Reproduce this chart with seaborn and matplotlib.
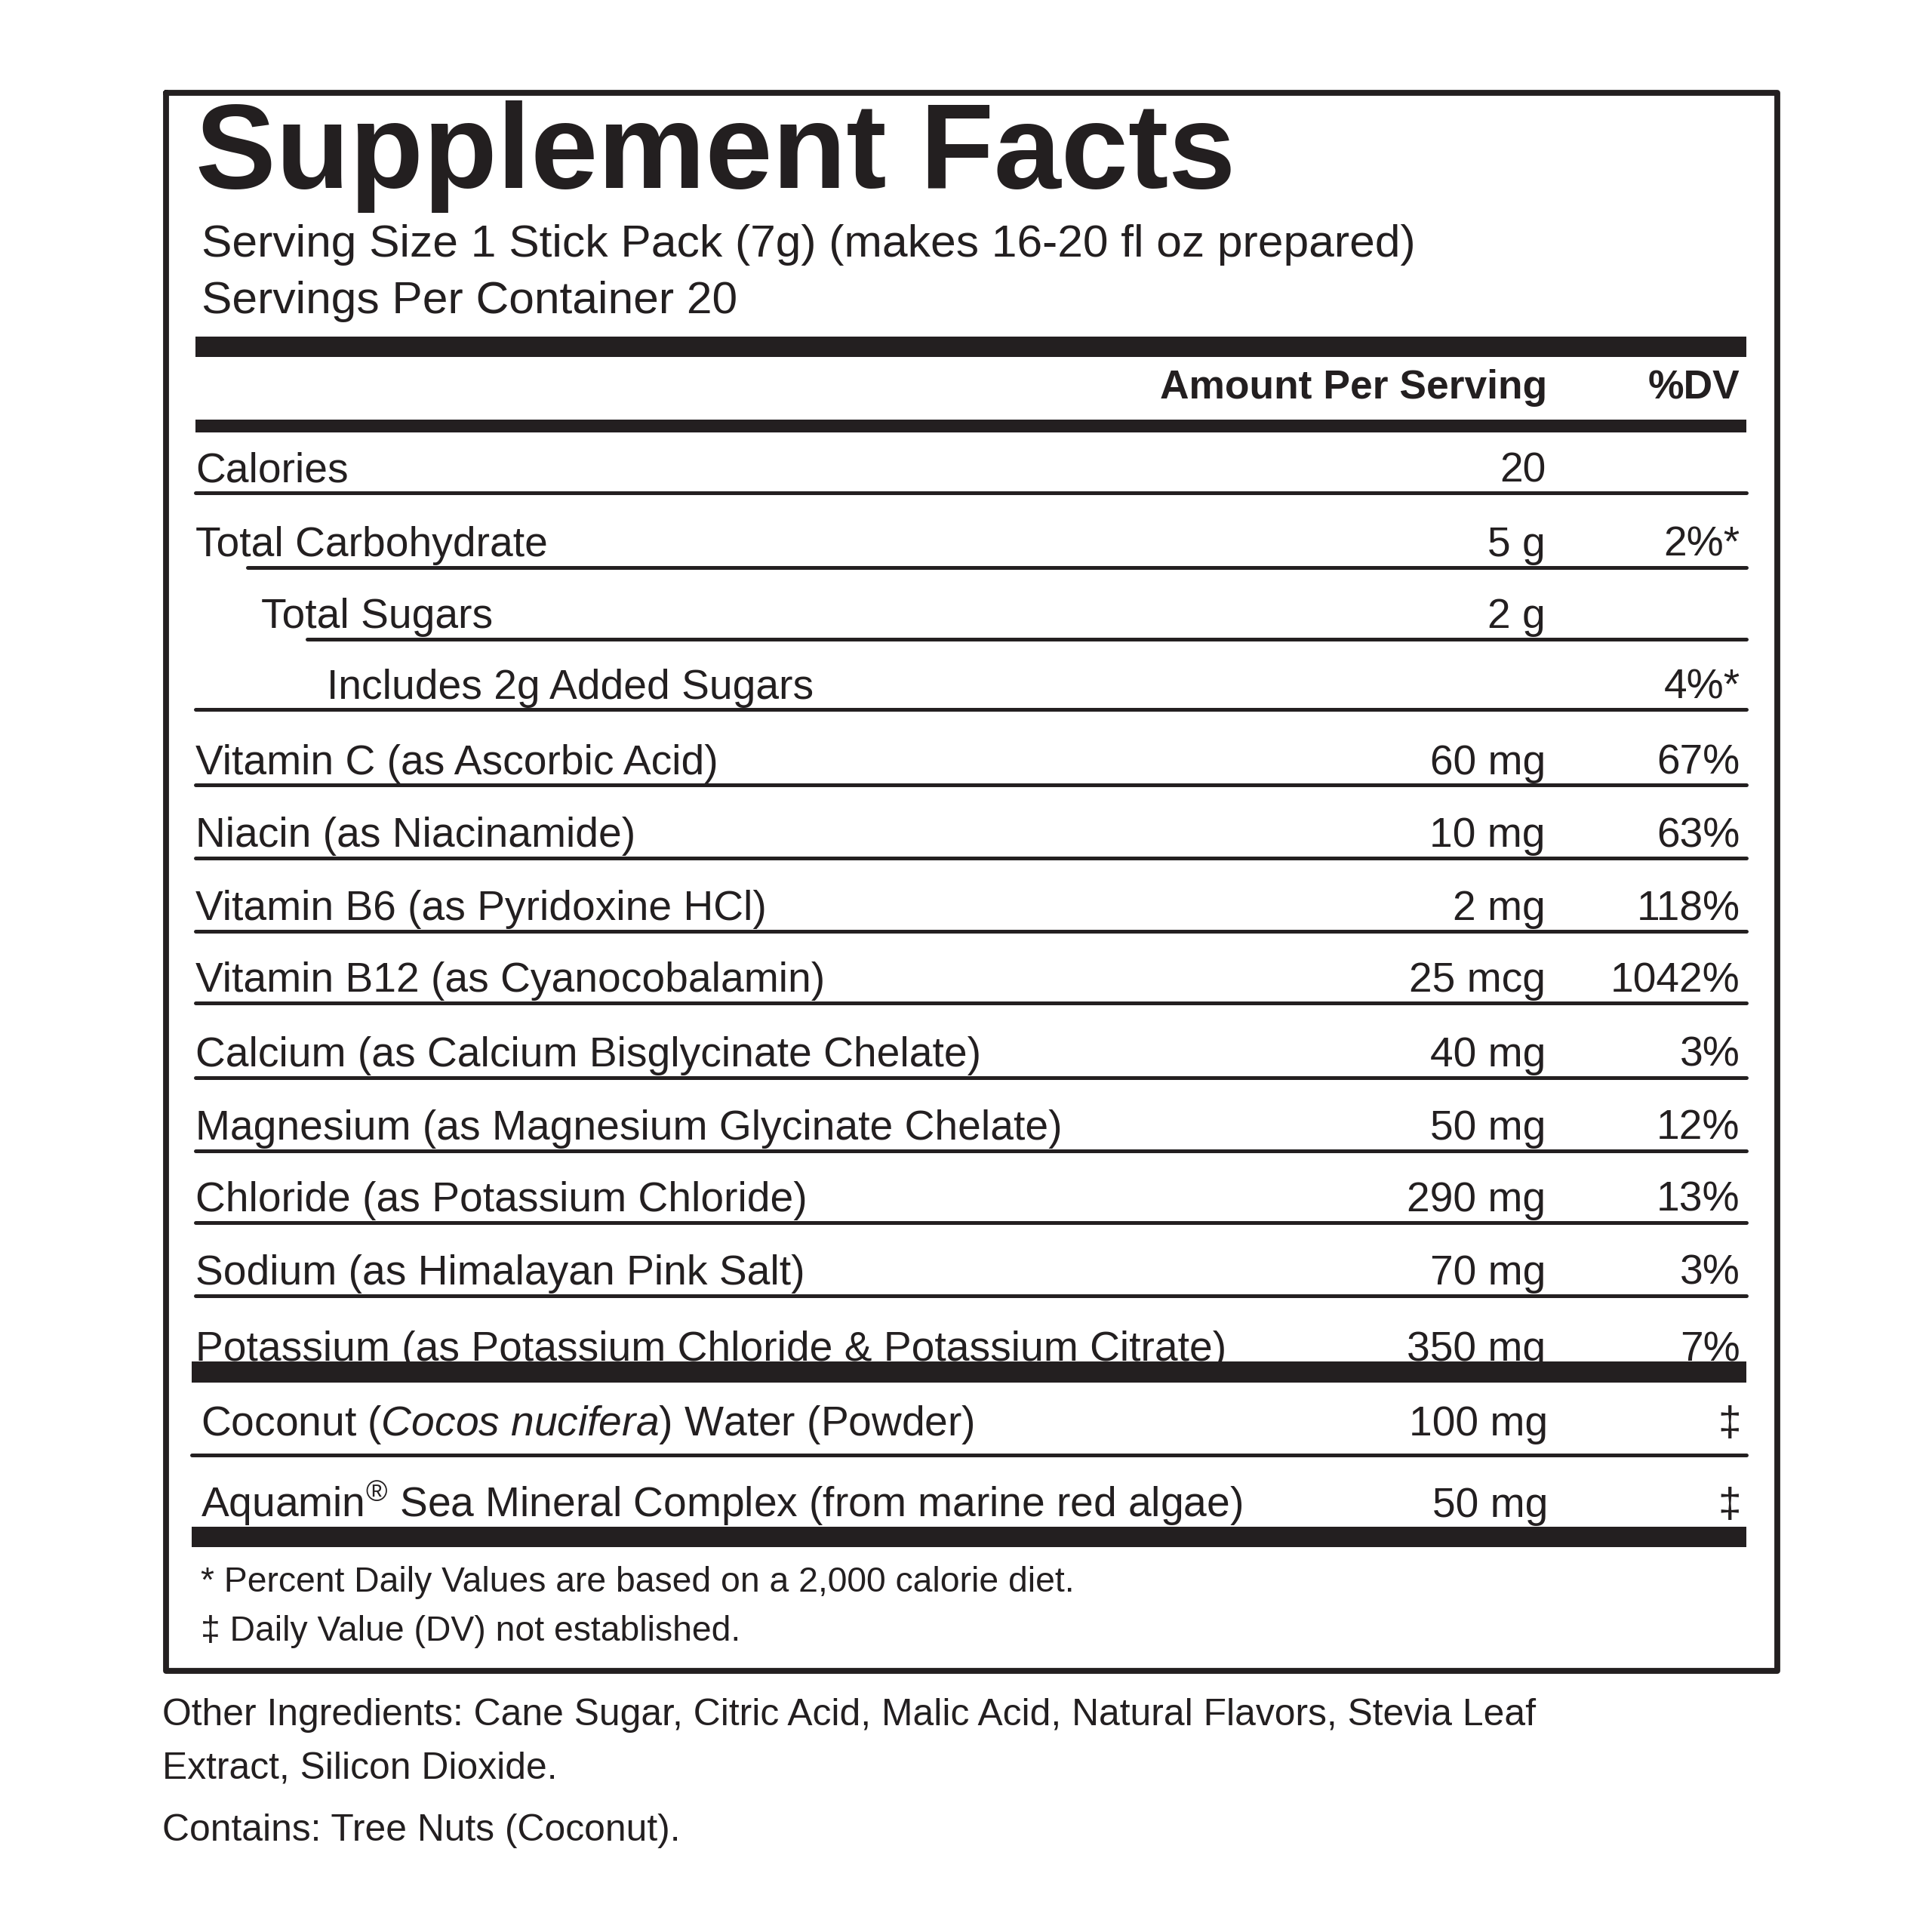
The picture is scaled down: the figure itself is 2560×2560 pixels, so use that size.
import matplotlib
matplotlib.use("Agg")
import matplotlib.pyplot as plt
import seaborn as sns

sns.set_style("white")
FAM = ['Liberation Sans', 'DejaVu Sans']
plt.rcParams['font.family'] = FAM
plt.rcParams['mathtext.fontset'] = 'custom'
plt.rcParams['mathtext.rm'] = 'Liberation Sans'
plt.rcParams['mathtext.it'] = 'Liberation Sans:italic'

title = "Supplement Facts"
serving = ["Serving Size 1 Stick Pack (7g) (makes 16-20 fl oz prepared)", "Servings Per Container 20"]
nutrients = ["Calories", "Total Carbohydrate", "Total Sugars", "Includes 2g Added Sugars",
             "Vitamin C (as Ascorbic Acid)", "Niacin (as Niacinamide)", "Vitamin B6 (as Pyridoxine HCl)",
             "Vitamin B12 (as Cyanocobalamin)", "Calcium (as Calcium Bisglycinate Chelate)",
             "Magnesium (as Magnesium Glycinate Chelate)", "Chloride (as Potassium Chloride)",
             "Sodium (as Himalayan Pink Salt)", "Potassium (as Potassium Chloride & Potassium Citrate)"]
indent = [0, 0, 1, 2, 0, 0, 0, 0, 0, 0, 0, 0, 0]
amounts = ["20", "5 g", "2 g", "", "60 mg", "10 mg", "2 mg", "25 mcg", "40 mg", "50 mg", "290 mg", "70 mg", "350 mg"]
dvs = ["", "2%*", "", "4%*", "67%", "63%", "118%", "1042%", "3%", "12%", "13%", "3%", "7%"]
other_names = [r"Coconut ($\it{Cocos\ nucifera}$) Water (Powder)", r"Aquamin$^{®}$ Sea Mineral Complex (from marine red algae)"]
other_amounts = ["100 mg", "50 mg"]
other_dvs = ["‡", "‡"]
footnotes = ["* Percent Daily Values are based on a 2,000 calorie diet.", "‡ Daily Value (DV) not established."]
ingredients = ["Other Ingredients: Cane Sugar, Citric Acid, Malic Acid, Natural Flavors, Stevia Leaf",
               "Extract, Silicon Dioxide.", "Contains: Tree Nuts (Coconut)."]

C = '#231f20'
fig = plt.figure(figsize=(10, 10), dpi=256)
ax = fig.add_axes([0, 0, 1, 1])
ax.set_xlim(0, 1560); ax.set_ylim(1560, 0); ax.axis('off')

ax.plot([134, 1435, 1435, 134, 134], [75, 75, 1349, 1349, 75], color=C, lw=2.2)
ax.text(158, 152, title, fontsize=45, fontweight='bold', color=C)
for i, s in enumerate(serving):
    ax.text(163, 207 + 46 * i, s, fontsize=17, color=C)

def bar(y, h, x0=158, x1=1410):
    ax.fill_between([x0, x1], y - h / 2, y + h / 2, color=C, lw=0)

bar(280, 17)
ax.text(1249, 322, "Amount Per Serving", ha='right', fontsize=15, fontweight='bold', color=C)
ax.text(1405, 322, "%DV", ha='right', fontsize=15, fontweight='bold', color=C)
bar(344, 10)

lines = [398, 458, 516, 573, 634, 693, 752, 810, 870, 929, 987, 1046, 1108]
starts = [158, 200, 248, 158, 158, 158, 158, 158, 158, 158, 158, 158, 158]
FS = 15.5
for i, name in enumerate(nutrients):
    yb = lines[i] - 9
    ax.text(158 + 53 * indent[i], yb, name, fontsize=FS, color=C)
    ax.text(1248, yb, amounts[i], ha='right', fontsize=FS, color=C)
    ax.text(1405, yb, dvs[i], ha='right', fontsize=FS, color=C)
    if i < len(nutrients) - 1:
        ax.plot([starts[i], 1410], [lines[i], lines[i]], color=C, lw=1.4)
bar(1108, 17, 155)

olines = [1175, 1241]
for i, name in enumerate(other_names):
    yb = olines[i] - 16
    ax.text(162, yb, name, fontsize=FS, color=C)
    ax.text(1250, yb, other_amounts[i], ha='right', fontsize=FS, color=C)
    ax.text(1406, yb, other_dvs[i], ha='right', fontsize=FS, color=C)
ax.plot([155, 1410], [1175, 1175], color=C, lw=1.4)
bar(1241, 17, 155)

for i, s in enumerate(footnotes):
    ax.text(162, 1285 + 40 * i, s, fontsize=13, color=C)
ax.text(131, 1393, ingredients[0], fontsize=14, color=C)
ax.text(131, 1436, ingredients[1], fontsize=14, color=C)
ax.text(131, 1486, ingredients[2], fontsize=14, color=C)

fig.savefig("out.png", dpi=256, facecolor='white')
